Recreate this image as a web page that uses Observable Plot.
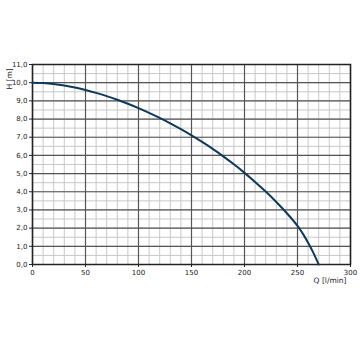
<!DOCTYPE html>
<html><head><meta charset="utf-8">
<script src="https://cdn.jsdelivr.net/npm/d3@7"></script>
<script src="https://cdn.jsdelivr.net/npm/@observablehq/plot@0.6"></script>
<style>body{margin:0;background:#fff;} svg{display:block;}</style>
</head><body><div id="chart"></div>
<script>
const flow = [0,10,20,30,40,50,60,70,80,90,100,110,120,130,140,150,160,170,180,190,200,210,220,230,240,250,255,260,265,270];
const head = [10.0,9.98,9.93,9.85,9.74,9.60,9.44,9.26,9.06,8.84,8.60,8.34,8.06,7.76,7.44,7.10,6.74,6.36,5.95,5.51,5.04,4.54,4.01,3.44,2.82,2.12,1.70,1.20,0.64,0];
const xTicks = [0,50,100,150,200,250,300];
const yTicks = [0,1,2,3,4,5,6,7,8,9,10,11];
const xMinor = d3.range(0,301,10);
const yMinor = d3.range(0,11.01,0.5);
const data = flow.map((q,i)=>({q, h: head[i]}));
const fmt = d => d.toFixed(1).replace(".", ",");

const chart = Plot.plot({
  width: 360, height: 360,
  marginLeft: 32, marginRight: 10, marginTop: 64, marginBottom: 96,
  style: {fontFamily: "DejaVu Sans, sans-serif", fontSize: "7px", color: "#222"},
  x: {domain: [0,300], ticks: xTicks, tickSize: 3, tickPadding: 3, label: null},
  y: {domain: [0,11], ticks: yTicks, tickSize: 3, tickPadding: 2, tickFormat: fmt, label: null},
  marks: [
    Plot.ruleX(xMinor, {stroke: "#c8c8c8", strokeWidth: 1}),
    Plot.ruleY(yMinor, {stroke: "#c8c8c8", strokeWidth: 1}),
    Plot.ruleX(xTicks, {stroke: "#555", strokeWidth: 1.2}),
    Plot.ruleY(yTicks, {stroke: "#555", strokeWidth: 1.2}),
    Plot.frame({stroke: "#222", strokeWidth: 1.5}),
    Plot.line(data, {x: "q", y: "h", curve: "monotone-x", stroke: "#0e3a5a", strokeWidth: 2}),
    Plot.axisX({ticks: xTicks, tickSize: 3, tickPadding: 3, fontSize: 7}),
    Plot.axisY({ticks: yTicks, tickSize: 3, tickPadding: 2, tickFormat: fmt, fontSize: 7}),
    Plot.text(["Q [l/min]"], {frameAnchor: "bottom-right", dx: -4, dy: 13, fontSize: 7.5, textAnchor: "end", lineAnchor: "top"}),
    Plot.text(["H [m]"], {frameAnchor: "top-left", dx: -26, dy: 25, rotate: -90, fontSize: 7.5})
  ]
});
document.getElementById("chart").append(chart);
</script>
</body></html>
